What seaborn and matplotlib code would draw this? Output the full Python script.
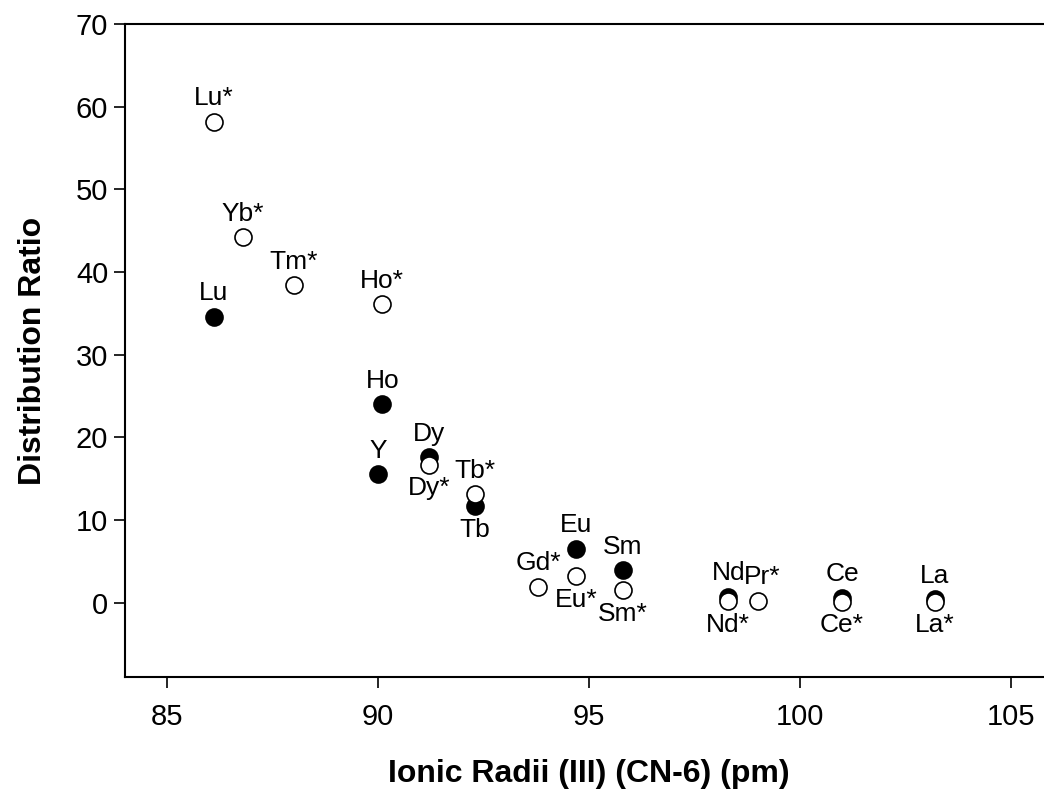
import matplotlib
matplotlib.use("Agg")
import matplotlib.pyplot as plt
import seaborn as sns
import pandas as pd

# Distribution ratios of rare-earth elements vs. six-coordinate ionic radius
filled_elements = ["Lu", "Ho", "Y", "Dy", "Tb", "Eu", "Sm", "Nd", "Ce", "La"]
filled_radii = [86.1, 90.1, 90.0, 91.2, 92.3, 94.7, 95.8, 98.3, 101.0, 103.2]
filled_ratio = [34.6, 24.0, 15.5, 17.6, 11.7, 6.5, 3.9, 0.7, 0.6, 0.4]

open_elements = ["Lu*", "Yb*", "Tm*", "Ho*", "Dy*", "Tb*", "Gd*", "Eu*",
                 "Sm*", "Nd*", "Pr*", "Ce*", "La*"]
open_radii = [86.1, 86.8, 88.0, 90.1, 91.2, 92.3, 93.8, 94.7,
              95.8, 98.3, 99.0, 101.0, 103.2]
open_ratio = [58.2, 44.2, 38.4, 36.1, 16.7, 13.1, 1.9, 3.2,
              1.5, 0.2, 0.2, 0.1, 0.1]

x_ticks = [85, 90, 95, 100, 105]
y_ticks = [0, 10, 20, 30, 40, 50, 60, 70]

# which labels sit under their marker instead of above it
labels_below = {"Dy*", "Tb", "Eu*", "Sm*", "Nd*", "Ce*", "La*"}

filled_df = pd.DataFrame({"element": filled_elements, "radius": filled_radii,
                          "ratio": filled_ratio})
open_df = pd.DataFrame({"element": open_elements, "radius": open_radii,
                        "ratio": open_ratio})

sns.set_style("ticks")
plt.rcParams["font.family"] = ["Liberation Sans", "DejaVu Sans"]
plt.rcParams["text.color"] = "black"
plt.rcParams["axes.labelcolor"] = "black"

fig = plt.figure(figsize=(10.44, 7.96), dpi=100)
ax = fig.add_axes([125 / 1044, 119 / 796, 928 / 1044, 653 / 796])

marker_size = 150
sns.scatterplot(data=filled_df, x="radius", y="ratio", ax=ax, s=marker_size,
                color="black", edgecolor="black", linewidth=1.2, zorder=3,
                legend=False)
sns.scatterplot(data=open_df, x="radius", y="ratio", ax=ax, s=marker_size,
                facecolor="white", edgecolor="black", linewidth=1.2, zorder=4,
                legend=False)

for df in (filled_df, open_df):
    for name, xv, yv in zip(df["element"], df["radius"], df["ratio"]):
        dy = -17 if name in labels_below else 17
        dx = 3 if name == "Pr*" else 0
        ax.annotate(name, (xv, yv), xytext=(dx, dy), textcoords="offset points",
                    ha="center", va="center", fontsize=19, color="black",
                    zorder=5)

ax.set_xlim(84, 106)
ax.set_ylim(-9, 70)
ax.set_xticks(x_ticks)
ax.set_yticks(y_ticks)
ax.tick_params(axis="both", direction="out", length=8, width=1.2,
               labelsize=21, colors="black", pad=11)
ax.tick_params(axis="y", pad=4)

for side in ("left", "bottom", "top", "right"):
    ax.spines[side].set_visible(True)
    ax.spines[side].set_linewidth(1.5)
    ax.spines[side].set_color("black")

ax.set_xlabel("Ionic Radii (III) (CN-6) (pm)", fontsize=23, fontweight="bold",
              labelpad=20)
ax.set_ylabel("Distribution Ratio", fontsize=23, fontweight="bold", labelpad=20)

fig.savefig("out.png", dpi=100)
